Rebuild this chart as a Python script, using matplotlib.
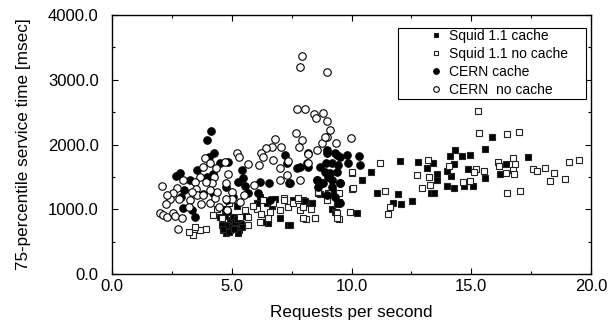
import matplotlib
matplotlib.use("Agg")
import matplotlib.pyplot as plt
from matplotlib.patches import Rectangle
from matplotlib.ticker import MultipleLocator, FormatStrFormatter

plt.rcParams['font.family'] = ['Liberation Sans', 'DejaVu Sans']

# Squid 1.1 cache (filled squares)
sq_cache_x = [15.88, 15.56, 14.33, 14.13, 14.61, 14.93, 17.37, 16.45, 16.2, 15.59, 14.88, 15.07, 14.71, 14.27,
              13.97, 14.14, 13.97, 14.28, 12.01, 12.79, 13.14, 13.42, 13.56, 13.56, 13.32, 13.45, 11.06, 11.96,
              11.75, 12.07, 12.51, 10.80, 10.45, 10.22, 9.49,
              4.65, 4.93, 4.75, 5.30, 5.27, 4.93, 5.07, 6.51, 7.36, 7.01, 8.36, 8.68, 7.99, 6.18, 6.46, 6.04,
              6.81, 7.57, 8.13, 9.03, 9.24, 4.51, 8.62, 8.34, 8.05, 7.43, 4.80, 5.00, 5.15, 4.60, 4.85, 5.40,
              5.60, 4.70, 5.20, 9.20, 9.40, 9.30, 4.62, 4.90, 5.10, 5.42, 5.22, 4.72, 6.30, 6.70]
sq_cache_y = [2116, 1936, 1910, 1822, 1822, 1843, 1807, 1704, 1544, 1483, 1622, 1364, 1359, 1323,
              1364, 1518, 1596, 1704, 1745, 1730, 1641, 1709, 1544, 1452, 1246, 1246, 1246, 1231,
              1101, 1086, 1127, 1571, 1447, 937, 1117,
              680, 680, 628, 680, 628, 834, 885, 782, 757, 860, 1091, 1230, 1143, 1194, 1091, 1091,
              1153, 1143, 1091, 1246, 1272, 885, 1246, 1092, 1120, 757, 760, 720, 800, 760, 950, 780,
              900, 1000, 1050, 1000, 1080, 960, 700, 650, 700, 720, 850, 900, 800, 1050]

# Squid 1.1 no cache (open squares)
sq_nocache_x = [15.3, 15.34, 16.48, 17.0, 11.19, 13.18, 12.75, 13.24, 12.96, 13.29, 14.07, 14.64, 14.96,
                15.19, 15.11, 15.53, 16.13, 16.16, 16.44, 16.73, 16.83, 16.73, 16.80, 16.49, 17.05, 17.57,
                17.73, 18.08, 18.47, 18.27, 18.91, 19.07, 19.49, 10.02, 10.01, 9.48, 9.35, 9.48, 9.94,
                11.40, 11.61, 11.52,
                3.40, 3.23, 3.67, 3.91, 3.47, 5.55, 5.69, 5.34, 6.04, 6.22, 6.18, 6.51, 6.74, 7.18, 7.36,
                7.57, 7.77, 7.85, 8.09, 8.48, 7.99, 4.23, 4.61, 5.66, 6.32, 7.01, 8.61, 8.96, 9.38, 9.38,
                7.78, 7.99, 8.48, 9.03, 10.01, 10.08, 4.40, 4.90, 5.90, 6.60, 7.20, 8.30]
sq_nocache_y = [2517, 2182, 2157, 2193, 1709, 1756, 1534, 1503, 1333, 1375, 1673, 1426, 1436,
                1622, 1571, 1591, 1735, 1673, 1555, 1797, 1694, 1606, 1544, 1256, 1282, 1626,
                1591, 1641, 1555, 1436, 1467, 1730, 1761, 1565, 1313, 1256, 953, 854, 953,
                1287, 1030, 927,
                602, 654, 680, 695, 731, 988, 885, 885, 999, 927, 808, 860, 1091, 1169, 1040,
                1091, 1143, 988, 849, 860, 1040, 911, 860, 757, 1143, 988, 1261, 1143, 937, 860,
                1169, 860, 860, 1246, 1580, 1324, 1000, 1100, 1050, 950, 1150, 1000]

# CERN cache (filled circles)
cern_cache_x = [4.13, 3.95, 4.27, 4.05, 4.51, 4.86, 4.23, 3.95, 3.54, 3.26, 2.84, 2.66, 3.01, 2.87, 2.95,
                3.33, 3.47, 3.81, 4.23, 4.79, 5.27, 5.41, 5.45, 5.55, 5.66, 6.11, 6.18, 6.56, 6.59, 7.22,
                7.29, 7.40, 7.71, 8.13, 8.20, 8.68, 8.55, 8.94, 9.10, 8.82, 9.17, 8.96, 9.38, 4.75, 5.07,
                8.96, 9.31, 9.52, 9.80, 9.17, 9.45, 9.87, 8.89, 9.38, 8.55, 8.75, 9.03, 8.62, 9.17, 9.52,
                8.96, 9.31, 9.52, 7.43, 7.85, 8.20, 10.33, 10.35, 9.53]
cern_cache_y = [2214, 2069, 1864, 1812, 1709, 1735, 1544, 1503, 1606, 1452, 1565, 1513, 1297, 1194, 1014,
                988, 885, 1236, 1246, 1143, 1426, 1606, 1478, 1359, 1246, 1246, 1426, 1400, 1143, 1838,
                1709, 1400, 1632, 1709, 1864, 1658, 1452, 1709, 1555, 1400, 1452, 1864, 1838, 1349, 1194,
                1915, 1864, 1812, 1838, 1709, 1683, 1709, 1580, 1580, 1452, 1401, 1503, 1349, 1349, 1401,
                1220, 1194, 1092, 1401, 1658, 1658, 1817, 1683, 1401]

# CERN no cache (open circles)
cern_nocache_x = [7.95, 7.85, 8.96, 7.74, 8.07, 8.43, 8.52, 8.82, 8.96, 9.10, 8.96, 7.67, 7.92, 7.81, 8.20,
                  8.55, 8.75, 8.89, 9.34, 6.81, 7.05, 6.67, 6.44, 6.24, 6.29, 6.12, 6.74, 7.01, 7.33, 7.01,
                  7.29, 7.85, 8.20, 5.21, 5.32, 5.66, 4.72, 4.86, 4.76, 5.00, 5.00, 4.75, 5.34, 5.51, 5.94,
                  4.34, 4.26, 4.16, 3.88, 4.08, 3.81, 3.67, 3.91, 3.47, 3.51, 3.54, 3.81, 4.09, 3.72, 4.30,
                  4.48, 3.26, 3.23, 2.98, 2.70, 2.56, 2.80, 2.42, 2.28, 2.25, 2.10, 2.00, 2.14, 2.31, 2.53,
                  2.64, 2.91, 2.77, 4.37, 4.09, 3.33, 4.79, 9.97]
cern_nocache_y = [3367, 3192, 3125, 2543, 2553, 2471, 2404, 2481, 2363, 2224, 2121, 2172, 2069, 1966, 1853,
                  1915, 2018, 2111, 2018, 2080, 1956, 1966, 1951, 1874, 1812, 1678, 1761, 1632, 1750, 1452,
                  1524, 1452, 1709, 1864, 1812, 1694, 1725, 1544, 1411, 1272, 1153, 1153, 1117, 1220, 1369,
                  1642, 1503, 1405, 1786, 1709, 1658, 1503, 1426, 1416, 1318, 1220, 1220, 1091, 1081, 1169,
                  1040, 1143, 1040, 1452, 1323, 1246, 1158, 1153, 1220, 1081, 1364, 937, 911, 885, 937,
                  901, 860, 695, 1272, 1297, 1272, 988, 2095]

x_ticks = [0.0, 5.0, 10.0, 15.0, 20.0]
y_ticks = [0, 1000, 2000, 3000, 4000]

fig = plt.figure(figsize=(6.1, 3.25), dpi=100)
ax = fig.add_axes([0.1836, 0.1569, 0.7853, 0.7969])

mew = 0.8
ax.plot(sq_cache_x, sq_cache_y, 's', ms=4.8, mfc='black', mec='#222222', mew=mew, ls='none',
        label='Squid 1.1 cache')
ax.plot(sq_nocache_x, sq_nocache_y, 's', ms=4.8, mfc='white', mec='#222222', mew=mew, ls='none',
        label='Squid 1.1 no cache')
ax.plot(cern_cache_x, cern_cache_y, 'o', ms=5.4, mfc='black', mec='black', mew=mew, ls='none',
        label='CERN cache')
ax.plot(cern_nocache_x, cern_nocache_y, 'o', ms=5.4, mfc='white', mec='black', mew=mew, ls='none',
        label='CERN  no cache')

ax.set_xlim(0, 20)
ax.set_ylim(0, 4000)
ax.set_xticks(x_ticks)
ax.set_yticks(y_ticks)
ax.xaxis.set_major_formatter(FormatStrFormatter('%.1f'))
ax.yaxis.set_major_formatter(FormatStrFormatter('%.1f'))
ax.xaxis.set_minor_locator(MultipleLocator(2.5))
ax.yaxis.set_minor_locator(MultipleLocator(500))
ax.tick_params(which='both', direction='in', top=True, right=True, labelsize=12, width=0.8)
ax.tick_params(which='major', length=4)
ax.tick_params(which='minor', length=2.5)
ax.tick_params(axis='y', which='both', pad=9.5)
ax.tick_params(axis='x', which='both', pad=3.5)
for s in ax.spines.values():
    s.set_linewidth(1.0)

ax.set_xlabel('Requests per second', fontsize=12.3, labelpad=8)
ax.set_ylabel('75-percentile service time [msec]', fontsize=12.3, labelpad=12)

# gnuplot-style key: wide box with the samples inset from its left edge
ax.add_patch(Rectangle((0.597, 0.6757), 0.3926, 0.2741, transform=ax.transAxes,
                       facecolor='white', edgecolor='black', lw=0.8, zorder=4))
leg = ax.legend(loc='center left', bbox_to_anchor=(0.672, 0.8147), fontsize=10, frameon=False,
                handlelength=0.3, handletextpad=0.78, borderpad=0, labelspacing=0.3,
                markerscale=0.75, borderaxespad=0)
leg.set_zorder(5)

fig.savefig('out.png', dpi=100)
